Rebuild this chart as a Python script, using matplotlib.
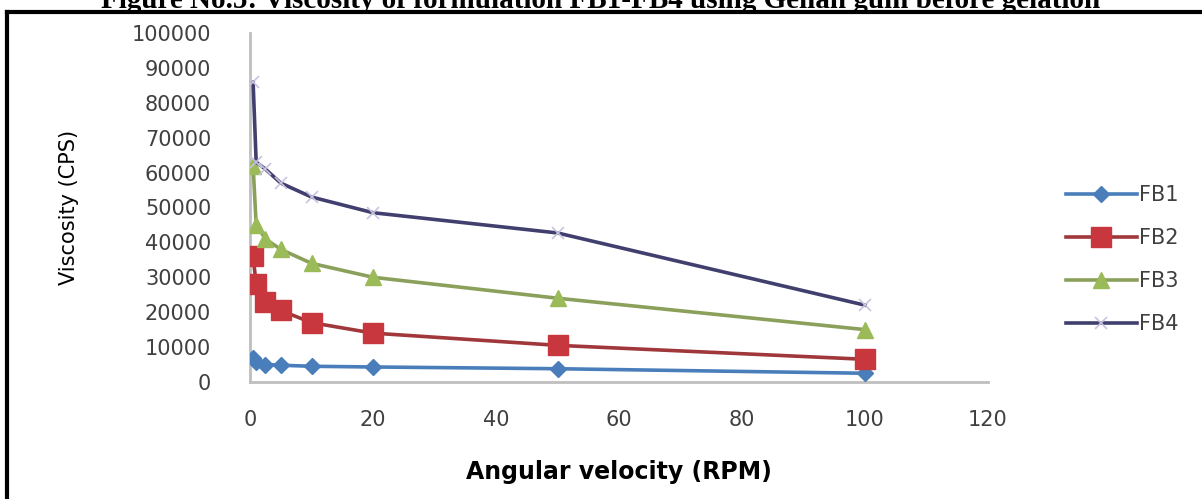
import numpy as np
import pandas as pd
import matplotlib
matplotlib.use('Agg')
import matplotlib.pyplot as plt
from matplotlib.lines import Line2D

# angular velocity of the viscometer (RPM)
rpm = [0.5, 1, 2.5, 5, 10, 20, 50, 100]

# viscosity (CPS)
fb1 = [6800, 5800, 5000, 4800, 4500, 4300, 3800, 2500]
fb2 = [36000, 28000, 23000, 20500, 17000, 14000, 10500, 6500]
fb3 = [62000, 45000, 41000, 38000, 34000, 30000, 24000, 15000]
fb4 = [86000, 63000, 61000, 57000, 53000, 48500, 42700, 22000]

series_names = ['FB1', 'FB2', 'FB3', 'FB4']
x_ticks = [0, 20, 40, 60, 80, 100, 120]
y_ticks = [0, 10000, 20000, 30000, 40000, 50000, 60000, 70000, 80000, 90000, 100000]

visc = pd.DataFrame({'rpm': rpm, 'FB1': fb1, 'FB2': fb2, 'FB3': fb3, 'FB4': fb4})

fig = plt.figure(figsize=(12.02, 4.99), dpi=100)
ax = fig.add_axes([0.208, 0.2345, 0.614, 0.6994])

# line styles, excel 2007 look
styles = {
    'FB1': dict(color='#4a7ebb', marker='D', markersize=8, mfc='#4a7ebb', mec='#4a7ebb'),
    'FB2': dict(color='#a0373a', marker='s', markersize=14, mfc='#c9373e', mec='#c9373e'),
    'FB3': dict(color='#8ba05a', marker='^', markersize=12, mfc='#9bbb59', mec='#9bbb59'),
    'FB4': dict(color='#413f6e', marker='x', markersize=9, mfc='#c9c3e0', mec='#c9c3e0', mew=1.2),
}

for name in series_names:
    ax.plot(visc['rpm'], visc[name], lw=2.6, label=name, zorder=3, **styles[name])

ax.set_xlim(0, 120)
ax.set_ylim(0, 100000)
ax.set_xticks(x_ticks)
ax.set_yticks(y_ticks)
ax.set_xticklabels([str(t) for t in x_ticks])
ax.set_yticklabels([str(t) for t in y_ticks])
ax.tick_params(length=0, labelsize=15, colors='#404040')
ax.tick_params(axis='x', pad=20)
ax.tick_params(axis='y', pad=28)

for s in ['top', 'right']:
    ax.spines[s].set_visible(False)
for s in ['left', 'bottom']:
    ax.spines[s].set_color('#bfbfbf')
    ax.spines[s].set_linewidth(2)

ax.set_xlabel('Angular velocity (RPM)', fontsize=17, fontweight='bold', labelpad=22)
ax.set_ylabel('Viscosity (CPS)', fontsize=15, labelpad=38, color='black')

# legend on the right
leg = ax.legend(loc='center left', bbox_to_anchor=(1.08, 0.35), frameon=False,
                fontsize=15, handlelength=3.4, handletextpad=0.1, labelspacing=1.1,
                labelcolor='#404040')

# cut off figure caption and frame around it
fig.text(0.5, 1 - 8 / 499, 'Figure No.5: Viscosity of formulation FB1-FB4 using Gellan gum before gelation',
         ha='center', va='baseline', fontsize=21, fontweight='bold', family='Liberation Serif')
fig.add_artist(Line2D([7 / 1202, 1], [1 - 12 / 499, 1 - 12 / 499], color='black', lw=3,
                      transform=fig.transFigure))
fig.add_artist(Line2D([7 / 1202, 7 / 1202], [0, 1 - 12 / 499], color='black', lw=3,
                      transform=fig.transFigure))

plt.savefig('out.png', dpi=100)
